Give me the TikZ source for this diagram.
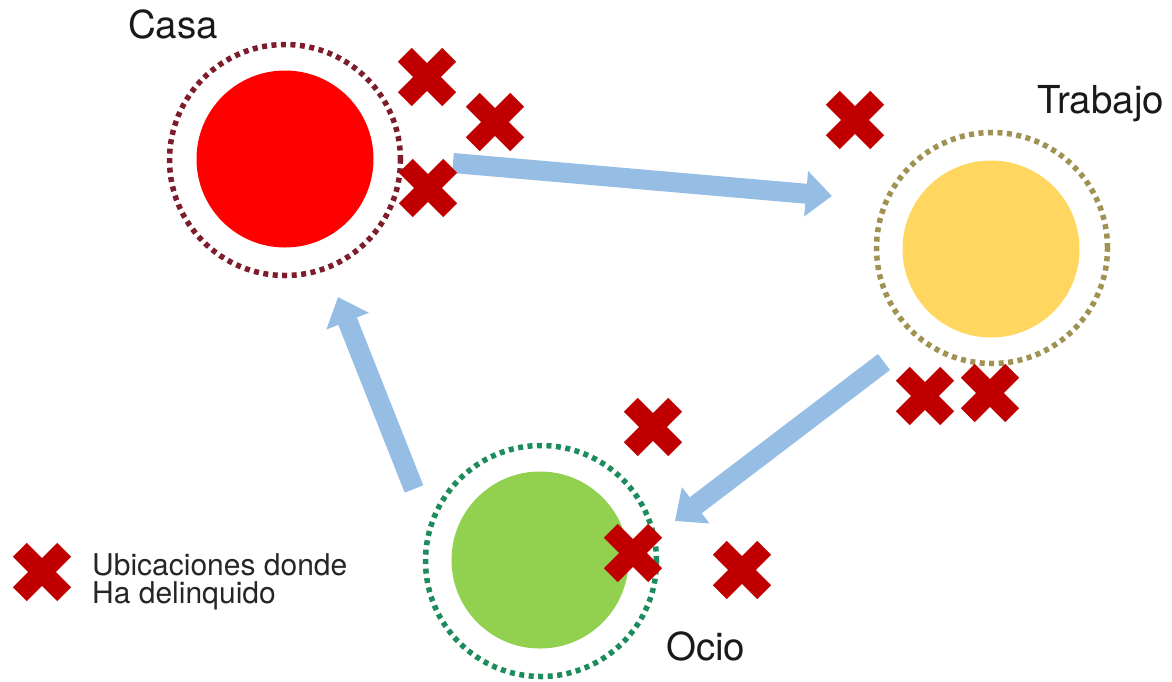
\documentclass[tikz,border=0pt]{standalone}
\usepackage{fontspec}
\setmainfont{TeX Gyre Heros}
\usetikzlibrary{arrows.meta}
\definecolor{casared}{RGB}{255,0,0}
\definecolor{casaring}{RGB}{125,28,42}
\definecolor{trabyel}{RGB}{254,214,96}
\definecolor{trabring}{RGB}{160,146,82}
\definecolor{ociogreen}{RGB}{146,208,80}
\definecolor{ocioring}{RGB}{28,140,92}
\definecolor{crossred}{RGB}{192,0,0}
\definecolor{arrowblue}{RGB}{150,190,228}
\tikzset{
  spot/.style={circle, inner sep=0pt, minimum size=177pt, draw=none},
  ring/.style={circle, inner sep=0pt, minimum size=231pt, line width=5.5pt, dash pattern=on 5pt off 4.5pt},
  flow/.style={draw=arrowblue, line width=20pt, -{Triangle[width=44pt,length=26pt]}},
  label/.style={inner sep=0pt, anchor=base west, font=\fontsize{38.5}{42}\selectfont, text=black!90},
  legend/.style={inner sep=0pt, anchor=base west, font=\fontsize{30}{28}\selectfont, text=black!85},
  xmark/.pic={\draw[crossred, line width=19.5pt, line cap=butt] (-22.2,-22.2) -- (22.2,22.2) (-22.2,22.2) -- (22.2,-22.2);}
}
\begin{document}
\begin{tikzpicture}[x=1pt, y=-1pt]
\useasboundingbox (0,0) rectangle (1172,681);
% places
\node[spot, fill=casared] (casa) at (285,159) {};
\node[ring, draw=casaring] (casaring) at (285,160) {};
\node[spot, fill=trabyel] (trabajo) at (991,249) {};
\node[ring, draw=trabring] (trabajoring) at (992,248) {};
\node[spot, fill=ociogreen] (ocio) at (540,560) {};
\node[ring, draw=ocioring] (ocioring) at (541,561) {};
% labels
\node[label] (casalbl) at (128,38) {Casa};
\node[label] (trablbl) at (1037,113) {Trabajo};
\node[label] (ociolbl) at (666,660) {Ocio};
% arrows
\coordinate (a1s) at (453,163);
\coordinate (a1e) at (832,196);
\coordinate (a2s) at (884,362);
\coordinate (a2e) at (675,521);
\coordinate (a3s) at (414,489);
\coordinate (a3e) at (338,297);
\draw[flow] (a1s) -- (a1e);
\draw[flow] (a2s) -- (a2e);
\draw[flow] (a3s) -- (a3e);
% crosses
\pic (xc1) at (427,77) {xmark};
\pic (xc2) at (495,122) {xmark};
\pic (xc3) at (428,188) {xmark};
\pic (xt1) at (855,120) {xmark};
\pic (xt2) at (925,396) {xmark};
\pic (xt3) at (990,393) {xmark};
\pic (xo1) at (653,427) {xmark};
\pic (xo2) at (633,553) {xmark};
\pic (xo3) at (742,570) {xmark};
% legend
\pic (xleg) at (42,572) {xmark};
\node[legend] (leg1) at (92,575) {Ubicaciones donde};
\node[legend] (leg2) at (92,603) {Ha delinquido};
\end{tikzpicture}
\end{document}
